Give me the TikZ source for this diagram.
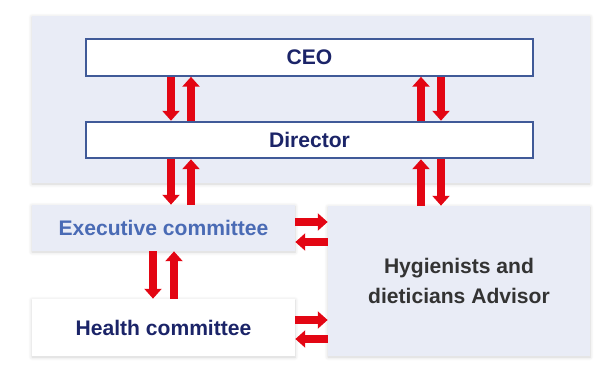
\documentclass[tikz,border=0pt]{standalone}
\usepackage{fontspec}
\setmainfont{Liberation Sans}
\usetikzlibrary{arrows.meta}
\usetikzlibrary{shadows.blur}

\tikzset{
    ndHead/.style={draw={rgb,255:red,64;green,90;blue,152}, fill={rgb,255:red,255;green,255;blue,255}, text={rgb,255:red,27;green,36;blue,104}, line width=1.2pt, rectangle, minimum width=8.94cm, minimum height=0.73cm, font=\fontsize{12}{15}\selectfont\bfseries},
    ndPale/.style={fill={rgb,255:red,233;green,236;blue,246}, rectangle, blur shadow={shadow xshift=0pt, shadow yshift=-0.6pt, shadow blur steps=6, shadow opacity=18}},
    ndFlow/.style={draw={rgb,255:red,227;green,6;blue,19}, line width=4.4pt, -{Triangle[width=9.6pt,length=5.6pt]}}
}

\begin{document}
\begin{tikzpicture}
    \useasboundingbox (0,0) rectangle (12.08,-7.44);

    % light panel behind the two top boxes
    \node[ndPale, minimum width=11.16cm, minimum height=3.34cm] (ndPanel) at (6.22,-1.99) {};

    \node[ndHead] (ndCeo) at (6.19,-1.15) {CEO};
    \node[ndHead] (ndDirector) at (6.19,-2.80) {Director};

    \node[ndPale, minimum width=5.26cm, minimum height=0.92cm, text={rgb,255:red,74;green,107;blue,181}, font=\fontsize{12}{15}\selectfont\bfseries] (ndExecutive) at (3.27,-4.56) {Executive committee};
    \node[ndPale, fill={rgb,255:red,255;green,255;blue,255}, minimum width=5.26cm, minimum height=1.14cm, text={rgb,255:red,27;green,36;blue,104}, font=\fontsize{12}{15}\selectfont\bfseries] (ndHealth) at (3.27,-6.55) {Health committee};
    \node[ndPale, minimum width=5.24cm, minimum height=3.0cm, align=center, text={rgb,255:red,51;green,51;blue,51}, font=\fontsize{12}{17}\selectfont\bfseries] (ndAdvisor) at (9.18,-5.62) {Hygienists and\\dieticians Advisor};

    % CEO <-> Director
    \draw[ndFlow] ([xshift=-2.77cm]ndCeo.south) -- ([xshift=-2.77cm]ndDirector.north);
    \draw[ndFlow] ([xshift=-2.37cm]ndDirector.north) -- ([xshift=-2.37cm]ndCeo.south);
    \draw[ndFlow] ([xshift=2.23cm]ndDirector.north) -- ([xshift=2.23cm]ndCeo.south);
    \draw[ndFlow] ([xshift=2.63cm]ndCeo.south) -- ([xshift=2.63cm]ndDirector.north);

    % Director <-> committees and advisor
    \draw[ndFlow] ([xshift=-2.77cm]ndDirector.south) -- ([xshift=-2.77cm]ndDirector.south |- ndExecutive.north);
    \draw[ndFlow] ([xshift=-2.37cm]ndDirector.south |- ndExecutive.north) -- ([xshift=-2.37cm]ndDirector.south);
    \draw[ndFlow] ([xshift=2.23cm]ndDirector.south |- ndAdvisor.north) -- ([xshift=2.23cm]ndDirector.south);
    \draw[ndFlow] ([xshift=2.63cm]ndDirector.south) -- ([xshift=2.63cm]ndDirector.south |- ndAdvisor.north);

    % Executive <-> Health
    \draw[ndFlow] ([xshift=-0.21cm]ndExecutive.south) -- ([xshift=-0.21cm]ndHealth.north);
    \draw[ndFlow] ([xshift=0.21cm]ndHealth.north) -- ([xshift=0.21cm]ndExecutive.south);

    % committees <-> advisor
    \draw[ndFlow] ([yshift=0.12cm]ndExecutive.east) -- ([yshift=0.12cm]ndExecutive.east -| ndAdvisor.west);
    \draw[ndFlow] ([yshift=-0.28cm]ndExecutive.east -| ndAdvisor.west) -- ([yshift=-0.28cm]ndExecutive.east);
    \draw[ndFlow] ([yshift=0.15cm]ndHealth.east) -- ([yshift=0.15cm]ndHealth.east -| ndAdvisor.west);
    \draw[ndFlow] ([yshift=-0.23cm]ndHealth.east -| ndAdvisor.west) -- ([yshift=-0.23cm]ndHealth.east);
\end{tikzpicture}
\end{document}
